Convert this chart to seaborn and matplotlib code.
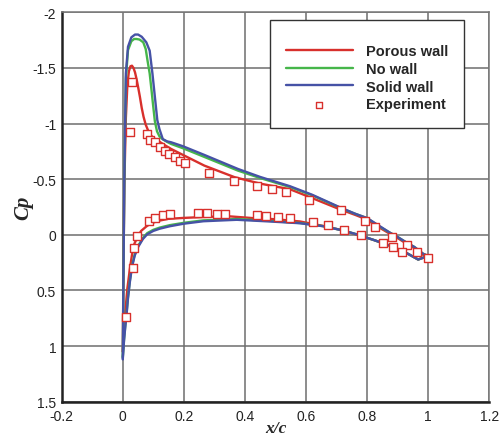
import matplotlib
matplotlib.use("Agg")
import matplotlib.pyplot as plt
import pandas as pd
import seaborn as sns

# ---- computed pressure distributions (upper surface: LE -> TE) ----
porous_up_x = [0.0, 0.002, 0.005, 0.01, 0.015, 0.02, 0.025, 0.03, 0.035, 0.04, 0.045, 0.05,
               0.056, 0.062, 0.068, 0.075, 0.087, 0.1, 0.115, 0.135, 0.158, 0.197, 0.267,
               0.366, 0.45, 0.547, 0.62, 0.71, 0.76, 0.797, 0.84, 0.874, 0.9, 0.929, 0.955,
               0.983, 1.0]
porous_up_cp = [1.05, 0.35, -0.45, -1.05, -1.35, -1.47, -1.515, -1.52, -1.50, -1.46, -1.40,
                -1.33, -1.24, -1.14, -1.06, -0.99, -0.91, -0.87, -0.846, -0.81, -0.772, -0.718,
                -0.622, -0.518, -0.46, -0.41, -0.33, -0.23, -0.18, -0.14, -0.065, -0.01, 0.03,
                0.08, 0.12, 0.18, 0.21]

nowall_up_x = [0.0, 0.002, 0.005, 0.01, 0.017, 0.028, 0.037, 0.045, 0.055, 0.067, 0.075, 0.081,
               0.088, 0.094, 0.099, 0.105, 0.112, 0.12, 0.13, 0.145, 0.158, 0.197, 0.267, 0.377,
               0.45, 0.547, 0.62, 0.71, 0.76, 0.80, 0.84, 0.874, 0.9, 0.929, 0.955, 0.983, 1.0]
nowall_up_cp = [1.1, 0.4, -0.5, -1.4, -1.66, -1.74, -1.76, -1.76, -1.755, -1.73, -1.67, -1.565,
                -1.45, -1.30, -1.17, -1.02, -0.93, -0.885, -0.86, -0.835, -0.817, -0.778, -0.70,
                -0.577, -0.51, -0.43, -0.355, -0.245, -0.19, -0.15, -0.075, -0.02, 0.02, 0.07,
                0.11, 0.17, 0.19]

solid_up_x = [0.0, 0.002, 0.005, 0.01, 0.017, 0.028, 0.04, 0.05, 0.062, 0.077, 0.088, 0.097,
              0.105, 0.113, 0.12, 0.131, 0.145, 0.158, 0.197, 0.267, 0.377, 0.45, 0.547, 0.62,
              0.71, 0.76, 0.80, 0.84, 0.874, 0.9, 0.929, 0.955, 0.983, 1.0]
solid_up_cp = [1.12, 0.4, -0.5, -1.45, -1.69, -1.775, -1.80, -1.80, -1.78, -1.73, -1.655, -1.45,
               -1.24, -1.03, -0.95, -0.86, -0.84, -0.832, -0.796, -0.718, -0.592, -0.52, -0.437,
               -0.36, -0.248, -0.19, -0.15, -0.08, -0.02, 0.02, 0.07, 0.11, 0.17, 0.19]

# ---- computed pressure distributions (lower surface: LE -> TE) ----
porous_lo_x = [0.0, 0.003, 0.007, 0.015, 0.023, 0.03, 0.038, 0.048, 0.06, 0.077, 0.093, 0.121,
               0.147, 0.2, 0.264, 0.344, 0.427, 0.5, 0.58, 0.656, 0.72, 0.765, 0.82, 0.874, 0.92,
               0.967, 1.0]
porous_lo_cp = [1.05, 0.9, 0.73, 0.48, 0.31, 0.18, 0.08, 0.02, -0.035, -0.075, -0.105, -0.128,
                -0.143, -0.152, -0.16, -0.167, -0.15, -0.14, -0.12, -0.08, -0.04, -0.002, 0.045,
                0.097, 0.15, 0.222, 0.19]

nowall_lo_x = [0.0, 0.004, 0.008, 0.012, 0.017, 0.023, 0.03, 0.039, 0.05, 0.066, 0.08, 0.1,
               0.121, 0.154, 0.2, 0.264, 0.373, 0.48, 0.58, 0.656, 0.72, 0.765, 0.82, 0.874, 0.92,
               0.967, 1.0]
nowall_lo_cp = [1.1, 0.94, 0.82, 0.715, 0.56, 0.415, 0.28, 0.177, 0.10, 0.027, -0.015, -0.045,
                -0.065, -0.087, -0.108, -0.13, -0.142, -0.125, -0.106, -0.078, -0.04, -0.005,
                0.045, 0.097, 0.15, 0.222, 0.19]

solid_lo_x = [0.0, 0.004, 0.008, 0.012, 0.017, 0.023, 0.03, 0.039, 0.05, 0.066, 0.08, 0.1,
              0.121, 0.154, 0.2, 0.264, 0.373, 0.48, 0.58, 0.656, 0.72, 0.765, 0.82, 0.874, 0.92,
              0.967, 1.0]
solid_lo_cp = [1.115, 0.95, 0.83, 0.726, 0.57, 0.426, 0.29, 0.187, 0.11, 0.037, -0.005, -0.035,
               -0.055, -0.077, -0.1, -0.122, -0.135, -0.12, -0.104, -0.077, -0.04, -0.005, 0.045,
               0.097, 0.15, 0.222, 0.19]

# ---- wind-tunnel measurements ----
exp_up_x = [0.022, 0.03, 0.078, 0.089, 0.105, 0.121, 0.139, 0.152, 0.17, 0.187, 0.203, 0.282,
            0.365, 0.438, 0.488, 0.533, 0.61, 0.716, 0.792, 0.827, 0.882, 0.931, 0.962, 1.0]
exp_up_cp = [-0.927, -1.371, -0.907, -0.855, -0.837, -0.792, -0.754, -0.73, -0.70, -0.667,
             -0.646, -0.556, -0.482, -0.442, -0.41, -0.383, -0.314, -0.221, -0.125, -0.071,
             0.019, 0.091, 0.154, 0.21]
exp_lo_x = [0.01, 0.032, 0.038, 0.048, 0.086, 0.105, 0.132, 0.155, 0.247, 0.276, 0.31, 0.335,
            0.438, 0.47, 0.509, 0.548, 0.623, 0.673, 0.725, 0.78, 0.852, 0.884, 0.913]
exp_lo_cp = [0.735, 0.30, 0.115, 0.013, -0.125, -0.152, -0.176, -0.185, -0.194, -0.194, -0.19,
             -0.185, -0.179, -0.167, -0.158, -0.147, -0.113, -0.086, -0.044, 0.004, 0.073,
             0.111, 0.154]

case_names = ["Porous wall", "No wall", "Solid wall"]
case_colors = ["#d8302c", "#46b64a", "#4652a6"]
exp_label = "Experiment"

x_ticks = [-0.2, 0, 0.2, 0.4, 0.6, 0.8, 1, 1.2]
x_tick_labels = ["-0.2", "0", "0.2", "0.4", "0.6", "0.8", "1", "1.2"]
y_ticks = [-2, -1.5, -1, -0.5, 0, 0.5, 1, 1.5]
y_tick_labels = ["-2", "-1.5", "-1", "-0.5", "0", "0.5", "1", "1.5"]

# ---- assemble long-form table ----
curves = {
    "Porous wall": [(porous_lo_x, porous_lo_cp), (porous_up_x, porous_up_cp)],
    "No wall": [(nowall_lo_x, nowall_lo_cp), (nowall_up_x, nowall_up_cp)],
    "Solid wall": [(solid_lo_x, solid_lo_cp), (solid_up_x, solid_up_cp)],
}
rows = []
for case, surfaces in curves.items():
    for sname, (xs, cps) in zip(["lower", "upper"], surfaces):
        for xv, cv in zip(xs, cps):
            rows.append({"case": case, "surface": sname, "x": xv, "cp": cv})
df = pd.DataFrame(rows)

exp_df = pd.DataFrame({"x": exp_up_x + exp_lo_x, "cp": exp_up_cp + exp_lo_cp})

sns.set_theme(style="whitegrid")
plt.rcParams["font.family"] = ["Liberation Sans", "DejaVu Sans"]

fig, ax = plt.subplots(figsize=(5.03, 4.39), dpi=100)
fig.subplots_adjust(left=0.1227, right=0.9728, top=0.9697, bottom=0.0827)
ax.set_facecolor("white")

sns.lineplot(data=df, x="x", y="cp", hue="case", hue_order=case_names,
             palette=dict(zip(case_names, case_colors)), units="surface",
             estimator=None, sort=False, linewidth=1.7, ax=ax, zorder=3)
sns.scatterplot(data=exp_df, x="x", y="cp", marker="s", s=30, facecolor="white",
                edgecolor=case_colors[0], linewidth=1.0, label=exp_label, ax=ax, zorder=4)

ax.set_xlim(-0.2, 1.2)
ax.set_ylim(1.5, -2)
ax.set_xticks(x_ticks)
ax.set_xticklabels(x_tick_labels)
ax.set_yticks(y_ticks)
ax.set_yticklabels(y_tick_labels)
ax.tick_params(axis="both", length=0, labelsize=10, colors="#222222")
ax.tick_params(axis="x", pad=5)
ax.tick_params(axis="y", pad=4)

ax.grid(True, color="#6e6e6e", linewidth=1.1)
for side, sp in ax.spines.items():
    sp.set_visible(True)
    sp.set_color("#222222" if side in ("left", "bottom") else "#777777")
    sp.set_linewidth(1.8 if side in ("left", "bottom") else 1.1)

ax.set_xlabel("x/c", fontsize=12.5, fontstyle="italic", fontweight="bold",
              family=["Liberation Serif", "DejaVu Serif"], labelpad=-2)
ax.set_ylabel("Cp", fontsize=15, fontstyle="italic", fontweight="bold",
              family=["Liberation Serif", "DejaVu Serif"], labelpad=-1)

handles, labels = ax.get_legend_handles_labels()
leg = ax.legend(handles, labels, loc="upper right", bbox_to_anchor=(0.941, 0.981),
                borderaxespad=0, frameon=True, fancybox=False, framealpha=1,
                edgecolor="#333333", facecolor="white",
                prop={"weight": "bold", "size": 10.5, "family": "Liberation Sans"},
                title=" ", title_fontsize=2.5,
                handlelength=4.6, handletextpad=0.9, labelspacing=0.27, borderpad=1.1,
                markerscale=0.7)
leg.get_frame().set_linewidth(1.0)
leg.set_zorder(10)

fig.savefig("out.png", dpi=100)
